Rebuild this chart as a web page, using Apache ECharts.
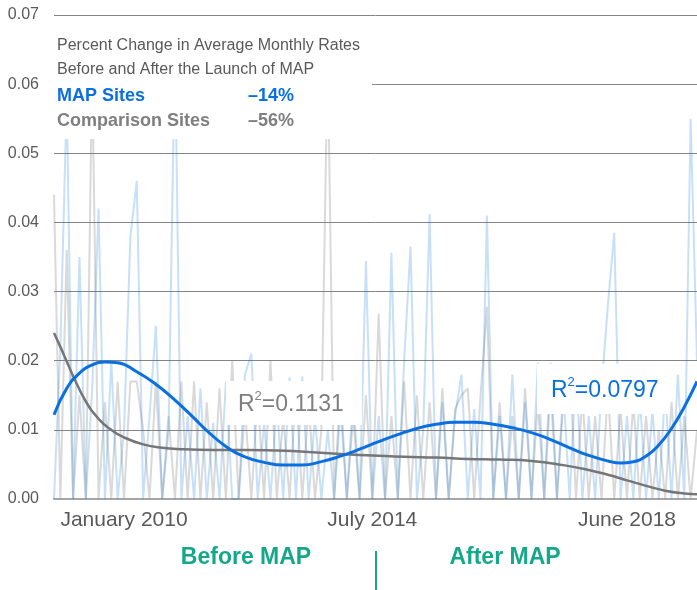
<!DOCTYPE html>
<html>
<head>
<meta charset="utf-8">
<script src="https://cdn.jsdelivr.net/npm/echarts@6/dist/echarts.min.js"></script>
<style>html,body{margin:0;padding:0;background:#fff;}#c{width:697px;height:590px;}</style>
</head>
<body>
<div id="c"></div>
<script>
// ---- data ----
const categories = Array.from({length: 102}, (_, i) => String(i));
const tickIndex = [11, 50, 90];
const tickLabels = ['January 2010', 'July 2014', 'June 2018'];
const yTicks = [0, 0.01, 0.02, 0.03, 0.04, 0.05, 0.06, 0.07];

const mapSites = [
  0.000, 0.022, 0.058, 0.000, 0.035, 0.000, 0.016, 0.042, 0.000, 0.020,
  0.000, 0.010, 0.038, 0.046, 0.000, 0.012, 0.025, 0.000, 0.010, 0.066,
  0.000, 0.012, 0.000, 0.016, 0.000, 0.011, 0.000, 0.017, 0.000, 0.000,
  0.018, 0.021, 0.000, 0.011, 0.000, 0.014, 0.000, 0.0176, 0.000, 0.0177,
  0.000, 0.012, 0.000, 0.010, 0.000, 0.013, 0.000, 0.015, 0.000, 0.0344,
  0.000, 0.012, 0.000, 0.0356, 0.000, 0.020, 0.0365, 0.000, 0.010, 0.0412,
  0.000, 0.014, 0.000, 0.012, 0.018, 0.000, 0.013, 0.000, 0.041, 0.000,
  0.012, 0.000, 0.018, 0.000, 0.014, 0.000, 0.0197, 0.000, 0.0197, 0.000,
  0.016, 0.000, 0.019, 0.000, 0.012, 0.000, 0.016, 0.028, 0.0385, 0.000,
  0.012, 0.000, 0.015, 0.000, 0.013, 0.000, 0.016, 0.000, 0.018, 0.000,
  0.055, 0.020
];
const comparisonSites = [
  0.044, 0.000, 0.036, 0.000, 0.015, 0.000, 0.062, 0.000, 0.014, 0.000,
  0.017, 0.000, 0.017, 0.017, 0.010, 0.000, 0.017, 0.000, 0.012, 0.000,
  0.017, 0.000, 0.017, 0.000, 0.014, 0.000, 0.016, 0.000, 0.020, 0.000,
  0.013, 0.000, 0.015, 0.000, 0.020, 0.000, 0.012, 0.000, 0.016, 0.000,
  0.014, 0.000, 0.010, 0.065, 0.000, 0.016, 0.000, 0.012, 0.000, 0.015,
  0.000, 0.0268, 0.000, 0.012, 0.000, 0.017, 0.000, 0.015, 0.000, 0.014,
  0.000, 0.016, 0.000, 0.013, 0.015, 0.016, 0.000, 0.015, 0.0278, 0.000,
  0.014, 0.000, 0.012, 0.000, 0.016, 0.000, 0.014, 0.000, 0.016, 0.000,
  0.014, 0.0195, 0.000, 0.015, 0.000, 0.012, 0.000, 0.016, 0.000, 0.013,
  0.000, 0.014, 0.000, 0.012, 0.000, 0.010, 0.000, 0.014, 0.000, 0.012,
  0.000, 0.010
];
// trend lines at these category positions
const blueTrendIdx = [0, 2, 4, 6, 8, 10, 13, 16, 19, 22, 24, 27, 30, 33, 36, 39, 42, 45, 48, 51,
                      54, 57, 60, 63, 66, 69, 72, 75, 78, 81, 84, 87, 89, 91, 93, 95, 97, 99, 101];
const blueTrend    = [0.0122, 0.0160, 0.0182, 0.0194, 0.0198, 0.0197, 0.0184, 0.0166, 0.0143, 0.0117,
                      0.0099, 0.0076, 0.0061, 0.0053, 0.0049, 0.0049, 0.0054, 0.0062, 0.0072, 0.0083,
                      0.0093, 0.0102, 0.0108, 0.0111, 0.0111, 0.0108, 0.0103, 0.0096, 0.0086, 0.0074,
                      0.0063, 0.0055, 0.0052, 0.0054, 0.0062, 0.0078, 0.0102, 0.0133, 0.0170];
const grayTrendIdx = [0, 1, 2, 3, 5, 7, 9, 11, 14, 17, 20, 25, 30, 35, 40, 45, 50, 55, 60, 65,
                      70, 75, 80, 84, 87, 90, 93, 96, 99, 101];
const grayTrend    = [0.0240, 0.0220, 0.0199, 0.0178, 0.0141, 0.0116, 0.0100, 0.0089, 0.0079, 0.0074,
                      0.0072, 0.0071, 0.0071, 0.0070, 0.0068, 0.0065, 0.0063, 0.0061, 0.0060, 0.0058,
                      0.0057, 0.0055, 0.0049, 0.0042, 0.0035, 0.0027, 0.0019, 0.0012, 0.0008, 0.0007];

// ---- chart ----
const FONT = '"Liberation Sans", Arial, Helvetica, sans-serif';
const chart = echarts.init(document.getElementById('c'), null, {renderer: 'canvas'});
const labelMap = {};
tickIndex.forEach((t, k) => { labelMap[t] = tickLabels[k]; });

function rText(num, color) {
  return {
    text: '{a|R}{s|2}{a|=' + num + '}',
    fill: color,
    verticalAlign: 'middle',
    rich: {
      a: {fontSize: 23, fontFamily: FONT, fill: color, lineHeight: 26, verticalAlign: 'bottom'},
      s: {fontSize: 13, fontFamily: FONT, fill: color, lineHeight: 26, verticalAlign: 'top'}
    }
  };
}

chart.setOption({
  animation: false,
  backgroundColor: '#ffffff',
  grid: {left: 54, right: 0, top: 15, bottom: 91, containLabel: false},
  xAxis: [{
    type: 'category',
    data: categories,
    boundaryGap: false,
    axisLine: {show: true, lineStyle: {color: '#a6a6a6', width: 2}},
    axisTick: {show: false},
    axisLabel: {
      interval: (idx) => labelMap[idx] !== undefined,
      formatter: (v, idx) => labelMap[idx] || '',
      color: '#595959', fontSize: 21, fontFamily: FONT, margin: 11
    },
    splitLine: {show: false}
  }, {
    type: 'value', min: 0, max: categories.length - 1, show: false
  }],
  yAxis: {
    type: 'value', min: yTicks[0], max: yTicks[yTicks.length - 1], interval: 0.01,
    axisLine: {show: false}, axisTick: {show: false},
    axisLabel: {color: '#595959', fontSize: 16, fontFamily: FONT, margin: 15,
      formatter: (v) => v.toFixed(2)},
    splitLine: {lineStyle: {color: '#858585', width: 1}}
  },
  series: [
    {type: 'line', name: 'Comparison Sites', data: comparisonSites, symbol: 'none',
     lineStyle: {color: 'rgba(128,128,128,0.3)', width: 2}, z: 2},
    {type: 'line', name: 'MAP Sites', data: mapSites, symbol: 'none',
     lineStyle: {color: 'rgba(0,112,224,0.22)', width: 2}, z: 3},
    {type: 'line', name: 'Comparison trend', xAxisIndex: 1,
     data: grayTrendIdx.map((x, k) => [x, grayTrend[k]]), symbol: 'none', smooth: 0.5,
     lineStyle: {color: '#767676', width: 2.5}, z: 4},
    {type: 'line', name: 'MAP trend', xAxisIndex: 1,
     data: blueTrendIdx.map((x, k) => [x, blueTrend[k]]), symbol: 'none', smooth: 0.5,
     lineStyle: {color: '#0a70e0', width: 3}, z: 5}
  ],
  graphic: [
    // legend box
    {type: 'rect', z: 100, shape: {x: 54, y: 24, width: 318, height: 115}, style: {fill: '#ffffff'}},
    {type: 'text', z: 101, x: 57, y: 46, style: {text: 'Percent Change in Average Monthly Rates', fill: '#595959', fontSize: 16, fontFamily: FONT, verticalAlign: 'middle'}},
    {type: 'text', z: 101, x: 57, y: 70, style: {text: 'Before and After the Launch of MAP', fill: '#595959', fontSize: 16, fontFamily: FONT, verticalAlign: 'middle'}},
    {type: 'text', z: 101, x: 57, y: 96, style: {text: 'MAP Sites', fill: '#0a70e0', fontSize: 18, fontWeight: 'bold', fontFamily: FONT, verticalAlign: 'middle'}},
    {type: 'text', z: 101, x: 248, y: 96, style: {text: '–14%', fill: '#0a70e0', fontSize: 18, fontWeight: 'bold', fontFamily: FONT, verticalAlign: 'middle'}},
    {type: 'text', z: 101, x: 57, y: 121, style: {text: 'Comparison Sites', fill: '#7f7f7f', fontSize: 18, fontWeight: 'bold', fontFamily: FONT, verticalAlign: 'middle'}},
    {type: 'text', z: 101, x: 248, y: 121, style: {text: '–56%', fill: '#7f7f7f', fontSize: 18, fontWeight: 'bold', fontFamily: FONT, verticalAlign: 'middle'}},
    // R² labels
    {type: 'rect', z: 100, shape: {x: 226, y: 381, width: 136, height: 44}, style: {fill: '#ffffff'}},
    {type: 'text', z: 101, x: 238, y: 403, style: rText('0.1131', '#7f7f7f')},
    {type: 'rect', z: 100, shape: {x: 537, y: 364, width: 131, height: 50}, style: {fill: '#ffffff'}},
    {type: 'text', z: 101, x: 551, y: 389, style: rText('0.0797', '#0a70e0')},
    // period labels
    {type: 'text', z: 101, x: 246, y: 558, style: {text: 'Before MAP', fill: '#14a88a', fontSize: 23, fontWeight: 'bold', fontFamily: FONT, align: 'center', verticalAlign: 'middle'}},
    {type: 'text', z: 101, x: 505, y: 558, style: {text: 'After MAP', fill: '#14a88a', fontSize: 23, fontWeight: 'bold', fontFamily: FONT, align: 'center', verticalAlign: 'middle'}},
    {type: 'line', z: 101, shape: {x1: 376, y1: 551, x2: 376, y2: 590}, style: {stroke: '#14a88a', lineWidth: 2}}
  ]
});
</script>
</body>
</html>
